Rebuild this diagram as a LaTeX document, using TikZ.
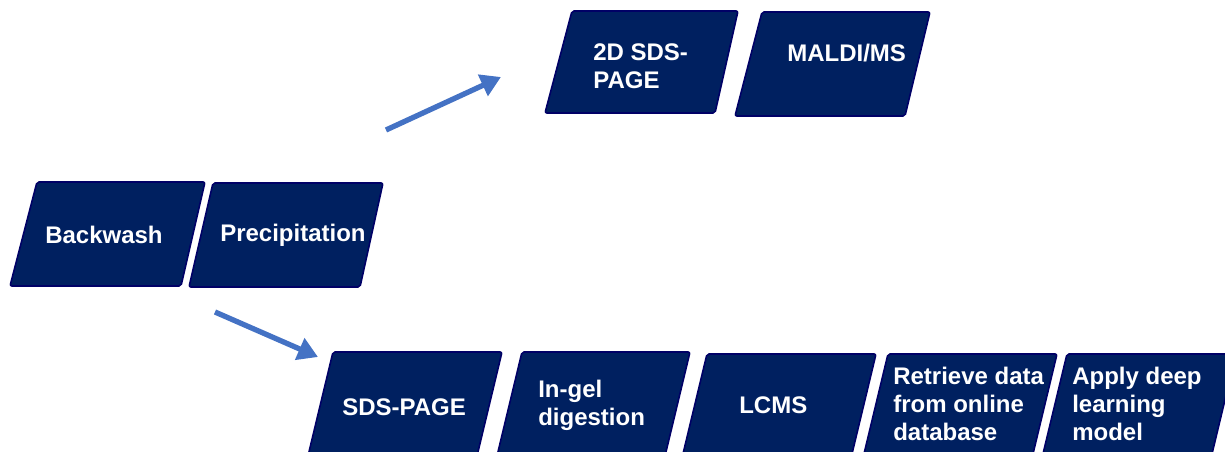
\documentclass[tikz,border=0pt]{standalone}
\usepackage{fontspec}
\setmainfont{Liberation Sans}
\usetikzlibrary{arrows.meta}
\definecolor{boxfill}{HTML}{002060}
\definecolor{boxline}{HTML}{000066}
\definecolor{arrowblue}{HTML}{4472C4}
\tikzset{
  pbox/.style={fill=boxfill, draw=boxline, line width=1.2pt, rounded corners=1.5pt},
  lbl/.style={text=white, font=\bfseries\fontsize{18pt}{21pt}\selectfont, inner sep=0pt, align=left},
  flow/.style={draw=arrowblue, line width=4pt, -{Triangle[length=15pt,width=17pt]}}
}
\begin{document}
\begin{tikzpicture}[x=0.75pt,y=-0.75pt]
\useasboundingbox (0,0) rectangle (1225,452);
% parallelogram boxes
\path[pbox] (37,182) -- (205,182) -- (181,286) -- (10,286) -- cycle;
\path[pbox] (213,183) -- (383,183) -- (360,287) -- (189,287) -- cycle;
\path[pbox] (572,11) -- (738,11) -- (715,113) -- (545,113) -- cycle;
\path[pbox] (762,12) -- (930,12) -- (905,116) -- (735,116) -- cycle;
\path[pbox] (333,352) -- (502,352) -- (477,456) -- (308,456) -- cycle;
\path[pbox] (522,352) -- (690,352) -- (665,456) -- (497,456) -- cycle;
\path[pbox] (707,354) -- (876,354) -- (851,458) -- (682,458) -- cycle;
\path[pbox] (888,354) -- (1057,354) -- (1032,458) -- (863,458) -- cycle;
\path[pbox] (1067,354) -- (1236,354) -- (1211,458) -- (1042,458) -- cycle;
% labels
\node[lbl, anchor=base west] (t1) at (45,244) {Backwash};
\node[lbl, anchor=base west] (t2) at (220,242) {Precipitation};
\node[lbl, anchor=north west] (t3) at (593,43) {2D SDS-\\PAGE};
\node[lbl, anchor=base west] (t4) at (787,62) {MALDI/MS};
\node[lbl, anchor=base west] (t5) at (342,415) {SDS-PAGE};
\node[lbl, anchor=north west] (t6) at (538,380) {In-gel\\digestion};
\node[lbl, anchor=base west] (t7) at (739,413) {LCMS};
\node[lbl, anchor=north west] (t8) at (893,367) {Retrieve data\\from online\\database};
\node[lbl, anchor=north west] (t9) at (1072,367) {Apply deep\\learning\\model};
% arrows
\coordinate (a1s) at (386,130);
\coordinate (a1e) at (501,77);
\coordinate (a2s) at (215,312);
\coordinate (a2e) at (318,357);
\draw[flow] (a1s) -- (a1e);
\draw[flow] (a2s) -- (a2e);
\end{tikzpicture}
\end{document}
